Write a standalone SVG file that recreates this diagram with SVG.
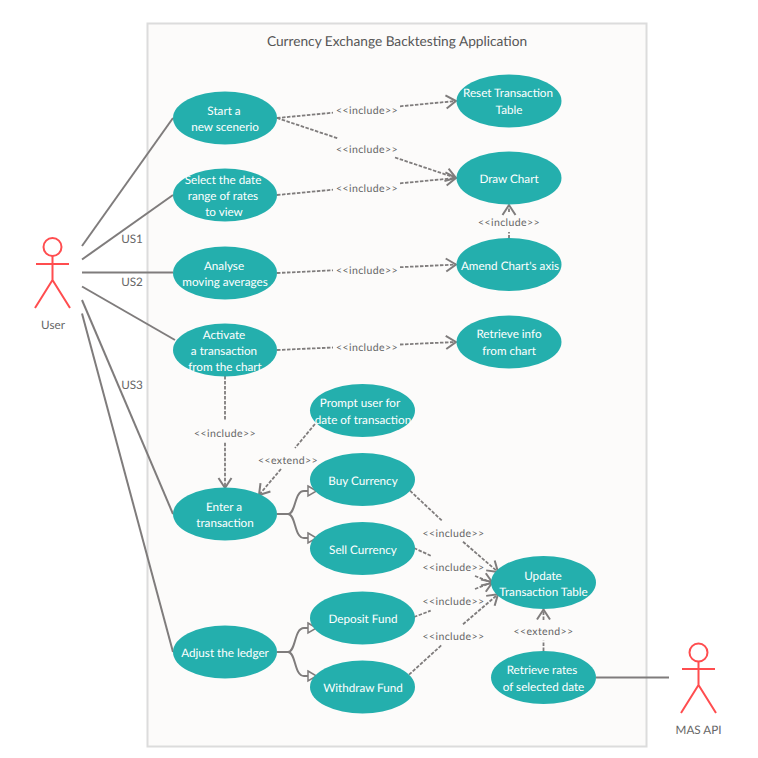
<svg xmlns="http://www.w3.org/2000/svg" width="758" height="758" viewBox="0 0 758 758">
<style>
text{font-family:Lato,"Liberation Sans",sans-serif;text-anchor:middle;text-rendering:geometricPrecision}
.u{fill:#24afad}
.n{fill:#fff;font-size:11.7px}
.a{stroke:#7f7c7c;stroke-width:2;fill:none}
.d{stroke:#7f7c7c;stroke-width:1.8;fill:none;stroke-dasharray:3.500 1.500}
.g{stroke:#7f7c7c;stroke-width:2;fill:none}
.l{fill:#666;font-size:10.500px;letter-spacing:.4px}
.t{fill:#666;font-size:11.700px}
.h{stroke:#ff4d4f;stroke-width:2;fill:none}
</style>
<defs>
<marker id="open" markerUnits="userSpaceOnUse" markerWidth="20" markerHeight="20" refX="14" refY="10" orient="auto"><path d="M4 3.500L14 10L4 16.500" fill="none" stroke="#7f7c7c" stroke-width="2"/></marker>
<marker id="tri" markerUnits="userSpaceOnUse" markerWidth="14" markerHeight="14" refX="10" refY="7" orient="auto"><path d="M1 2L9.500 7L1 12Z" fill="#fcfbfa" stroke="#7f7c7c" stroke-width="1.500"/></marker>
</defs>
<rect id="boundary" x="147.500" y="23.500" width="499" height="723" fill="#fcfbfa" stroke="#dcdcdc" stroke-width="2"/>
<text x="397" y="46" fill="#555" font-size="13.700px">Currency Exchange Backtesting Application</text>
<g id="connectors">
<path class="a" d="M82 246L173 118"/>
<path class="a" d="M82 259.500L173 195"/>
<path class="a" d="M82 272.500H173"/>
<path class="a" d="M82 286.500L175 340"/>
<path class="a" d="M82 300L173 514"/>
<path class="a" d="M82 313.500L173 652"/>
<path class="a" d="M596 677.500H669"/>
<path class="d" d="M277 118L333 112.700M400 106.300L456 101" marker-end="url(#open)"/>
<path class="d" d="M277 118L338 138.400M395 157.500L456 178" marker-end="url(#open)"/>
<path class="d" d="M277 195L333 189.700M400 183.300L456 178" marker-end="url(#open)"/>
<path class="d" d="M509 238.500V232M509 212V205" marker-end="url(#open)"/>
<path class="d" d="M277 273L333 270.300M400 267.200L456 264.500" marker-end="url(#open)"/>
<path class="d" d="M277 350L333 347.500M400 344.500L456 342" marker-end="url(#open)"/>
<path class="d" d="M225 376V420.700M225 442.700V488" marker-end="url(#open)"/>
<path class="d" d="M315 424L295 448M281 469L259 495" marker-end="url(#open)"/>
<path class="d" d="M410 490.700L442 520.700M463 541.700L498 572" marker-end="url(#open)"/>
<path class="d" d="M414 548L430.700 555.700M475 576L492.700 583" marker-end="url(#open)"/>
<path class="d" d="M414 617L430.700 610.700M475 589L492.700 582" marker-end="url(#open)"/>
<path class="d" d="M409 674.700L441.700 645M463 624.300L498 594.300" marker-end="url(#open)"/>
<path class="d" d="M543.500 651V640.700M543.500 620V609.500" marker-end="url(#open)"/>
<path class="g" d="M277 514H288C296 514 294 491 304 491H317" marker-end="url(#tri)"/>
<path class="g" d="M277 514H288C296 514 294 538 304 538H317" marker-end="url(#tri)"/>
<path class="g" d="M277 652H288C296 652 294 628 304 628H317" marker-end="url(#tri)"/>
<path class="g" d="M277 652H288C296 652 294 676 304 676H317" marker-end="url(#tri)"/>
<text class="l" x="367" y="114">&lt;&lt;include&gt;&gt;</text>
<text class="l" x="367" y="152.500">&lt;&lt;include&gt;&gt;</text>
<text class="l" x="367" y="191.500">&lt;&lt;include&gt;&gt;</text>
<text class="l" x="509" y="226">&lt;&lt;include&gt;&gt;</text>
<text class="l" x="367" y="273.500">&lt;&lt;include&gt;&gt;</text>
<text class="l" x="367" y="350.500">&lt;&lt;include&gt;&gt;</text>
<text class="l" x="225" y="437">&lt;&lt;include&gt;&gt;</text>
<text class="l" x="288" y="463.500">&lt;&lt;extend&gt;&gt;</text>
<text class="l" x="453.500" y="536.500">&lt;&lt;include&gt;&gt;</text>
<text class="l" x="453.500" y="570.500">&lt;&lt;include&gt;&gt;</text>
<text class="l" x="453.500" y="605">&lt;&lt;include&gt;&gt;</text>
<text class="l" x="453.500" y="639.500">&lt;&lt;include&gt;&gt;</text>
<text class="l" x="543.500" y="635">&lt;&lt;extend&gt;&gt;</text>
<text class="t" x="132" y="243">US1</text>
<text class="t" x="132" y="286">US2</text>
<text class="t" x="132" y="389">US3</text>
</g>
<g id="user"><circle class="h" cx="52.500" cy="247" r="9"/><path class="h" d="M36 264H69M52.500 256V280L35 308M52.500 280L70 308"/><text class="t" x="53" y="329">User</text></g>
<g id="mas-api"><circle class="h" cx="698.500" cy="652.500" r="9"/><path class="h" d="M682 669H715M698.500 661.500V685L681 713M698.500 685L716 713"/><text class="t" x="698.500" y="734">MAS API</text></g>
<g id="start-scenario"><ellipse class="u" cx="225" cy="118" rx="52" ry="26.500"/><text class="n" x="224" y="114.500">Start a</text><text class="n" x="225" y="131">new scenerio</text></g>
<g id="select-date"><ellipse class="u" cx="225" cy="195" rx="52" ry="26.500"/><text class="n" x="223" y="184">Select the date</text><text class="n" x="223" y="200">range of rates</text><text class="n" x="224" y="216">to view</text></g>
<g id="analyse"><ellipse class="u" cx="225" cy="273" rx="52" ry="26.500"/><text class="n" x="224" y="269.500">Analyse</text><text class="n" x="225" y="286">moving averages</text></g>
<g id="activate"><ellipse class="u" cx="225" cy="350" rx="52" ry="26.500"/><text class="n" x="224" y="339">Activate</text><text class="n" x="224" y="355">a transaction</text><text class="n" x="225" y="371">from the chart</text></g>
<g id="enter"><ellipse class="u" cx="225" cy="514" rx="52" ry="26.500"/><text class="n" x="224" y="511">Enter a</text><text class="n" x="225" y="527">transaction</text></g>
<g id="adjust"><ellipse class="u" cx="225" cy="652" rx="52" ry="26.500"/><text class="n" x="225" y="657">Adjust the ledger</text></g>
<g id="reset"><ellipse class="u" cx="509" cy="101" rx="52.500" ry="26.500"/><text class="n" x="508" y="97">Reset Transaction</text><text class="n" x="509" y="114">Table</text></g>
<g id="draw"><ellipse class="u" cx="509" cy="178" rx="52.500" ry="26.500"/><text class="n" x="509" y="183">Draw Chart</text></g>
<g id="amend"><ellipse class="u" cx="509" cy="264.500" rx="52.500" ry="26.500"/><text class="n" x="510" y="269.500">Amend Chart's axis</text></g>
<g id="retrieve-info"><ellipse class="u" cx="509" cy="342" rx="52.500" ry="26.500"/><text class="n" x="509" y="338">Retrieve info</text><text class="n" x="509" y="355">from chart</text></g>
<g id="prompt"><ellipse class="u" cx="362.500" cy="410.500" rx="52.500" ry="26.500"/><text class="n" x="360" y="407">Prompt user for</text><text class="n" x="363" y="424">date of transaction</text></g>
<g id="buy"><ellipse class="u" cx="362.500" cy="479.500" rx="52.500" ry="26.500"/><text class="n" x="363" y="485">Buy Currency</text></g>
<g id="sell"><ellipse class="u" cx="362.500" cy="548.500" rx="52.500" ry="26.500"/><text class="n" x="363" y="554">Sell Currency</text></g>
<g id="deposit"><ellipse class="u" cx="362.500" cy="618" rx="52.500" ry="26.500"/><text class="n" x="363" y="623">Deposit Fund</text></g>
<g id="withdraw"><ellipse class="u" cx="362.500" cy="687" rx="52.500" ry="26.500"/><text class="n" x="363" y="692">Withdraw Fund</text></g>
<g id="update"><ellipse class="u" cx="543.500" cy="582.500" rx="52.500" ry="26.500"/><text class="n" x="543" y="580">Update</text><text class="n" x="543.500" y="596">Transaction Table</text></g>
<g id="retrieve-rates"><ellipse class="u" cx="543.500" cy="677.500" rx="52.500" ry="26.500"/><text class="n" x="542" y="674">Retrieve rates</text><text class="n" x="543.500" y="691">of selected date</text></g>
</svg>
